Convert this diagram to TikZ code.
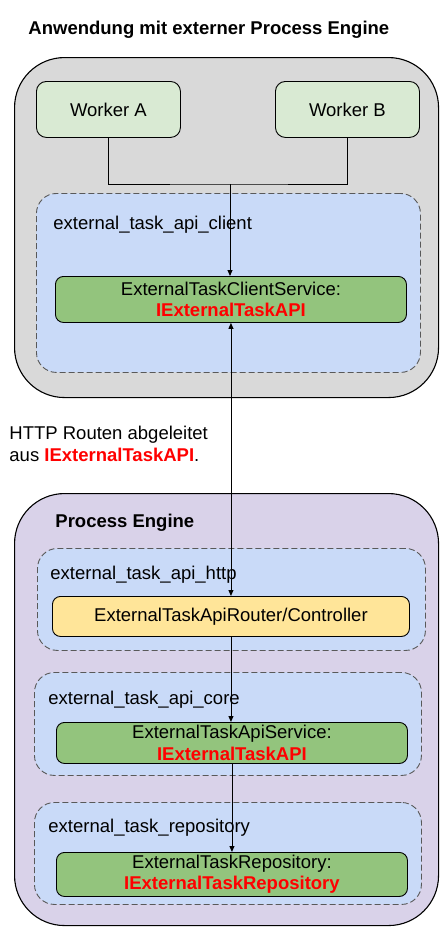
\documentclass[tikz,border=0pt]{standalone}
\usepackage{fontspec}
\setmainfont{Liberation Sans}
\usetikzlibrary{arrows.meta,positioning}

\definecolor{frameGray}{HTML}{D9D9D9}
\definecolor{enginePurple}{HTML}{D9D2E9}
\definecolor{moduleBlue}{HTML}{C9DAF8}
\definecolor{dashGray}{HTML}{595959}
\definecolor{workerGreen}{HTML}{D9EAD3}
\definecolor{serviceGreen}{HTML}{93C47D}
\definecolor{routerYellow}{HTML}{FFE599}
\definecolor{apiRed}{HTML}{FF0000}

\newcommand{\apiname}[1]{\textcolor{apiRed}{\bfseries #1}}

\tikzset{
  txt/.style={font=\fontsize{18.5}{21.5}\selectfont, inner sep=0pt},
  frame/.style={draw=black, line width=1.1pt, rounded corners=50pt, anchor=north west, inner sep=0pt},
  module/.style={draw=dashGray, fill=moduleBlue, dash pattern=on 6pt off 3pt, rounded corners=20pt, anchor=north west, inner sep=0pt},
  component/.style={draw=black, rounded corners=8pt, anchor=north west, txt, align=center},
}

\begin{document}
\begin{tikzpicture}[x=1pt, y=-1pt, >={Triangle[length=6pt,width=5pt]}, line width=0.9pt]
  \useasboundingbox (0,0) rectangle (447,948);

  % application with external engine
  \node[txt, font=\fontsize{18.5}{21.5}\selectfont\bfseries, anchor=base west] (appTitle) at (28,34) {Anwendung mit externer Process Engine};
  \node[frame, fill=frameGray, minimum width=424pt, minimum height=340pt] (appFrame) at (14,57) {};
  \node[component, fill=workerGreen, rounded corners=10pt, minimum width=144pt, minimum height=56pt] (workerA) at (36,81) {Worker A};
  \node[component, fill=workerGreen, rounded corners=10pt, minimum width=144pt, minimum height=56pt] (workerB) at (275,81) {Worker B};

  \node[module, minimum width=384pt, minimum height=179pt] (clientModule) at (36,193) {};
  \node[txt, anchor=base west] (clientLabel) at (53,229) {external\_task\_api\_client};
  \node[component, fill=serviceGreen, minimum width=351pt, minimum height=46pt] (clientSvc) at (55,276) {ExternalTaskClientService:\\\apiname{IExternalTaskAPI}};

  % note between the two parts (base = last line)
  \node[txt, anchor=base west, align=left] (httpNote) at (9,461) {HTTP Routen abgeleitet\\aus \apiname{IExternalTaskAPI}.};

  % process engine
  \node[frame, fill=enginePurple, minimum width=424pt, minimum height=432pt] (engineFrame) at (14,493) {};
  \node[txt, font=\fontsize{18.5}{21.5}\selectfont\bfseries, anchor=base west] (engineTitle) at (55,527) {Process Engine};

  \node[module, minimum width=388pt, minimum height=102pt] (httpModule) at (37,548) {};
  \node[txt, anchor=base west] (httpLabel) at (50,579) {external\_task\_api\_http};
  \node[component, fill=routerYellow, minimum width=357pt, minimum height=40pt] (router) at (52,596) {ExternalTaskApiRouter/Controller};

  \node[module, minimum width=387pt, minimum height=103pt] (coreModule) at (34,672) {};
  \node[txt, anchor=base west] (coreLabel) at (48,704) {external\_task\_api\_core};
  \node[component, fill=serviceGreen, minimum width=351pt, minimum height=41pt] (apiSvc) at (56,722) {ExternalTaskApiService:\\\apiname{IExternalTaskAPI}};

  \node[module, minimum width=387pt, minimum height=102pt] (repoModule) at (34,802) {};
  \node[txt, anchor=base west] (repoLabel) at (48,832) {external\_task\_repository};
  \node[component, fill=serviceGreen, minimum width=351pt, minimum height=44pt] (repo) at (56,852) {ExternalTaskRepository:\\\apiname{IExternalTaskRepository}};

  % connectors
  \coordinate (workerJoin) at (230,184);
  \draw (workerA.south) |- (workerJoin) -| (workerB.south);
  \draw[->] (workerJoin) -- (workerJoin |- clientSvc.north);
  \draw[<->] (clientSvc.south) -- (router.north);
  \draw[->] (router.south) -- (router.south |- apiSvc.north);
  \draw[->] (apiSvc.south) -- (repo.north);
\end{tikzpicture}
\end{document}
